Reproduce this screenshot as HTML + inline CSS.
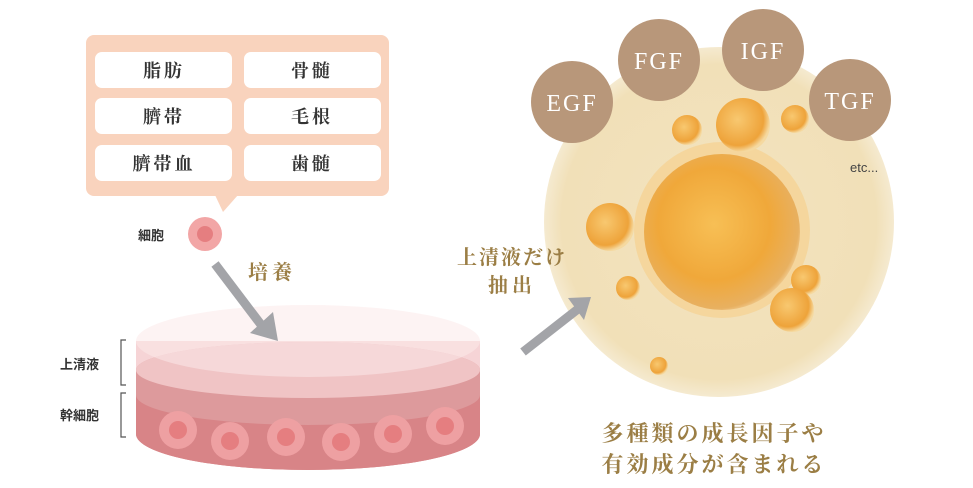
<!DOCTYPE html>
<html><head><meta charset="utf-8"><style>
html,body{margin:0;padding:0;background:#fff}
svg{display:block}
.s{font-family:"Liberation Serif","Noto Serif CJK SC",serif}
.j{font-family:"Liberation Sans","Noto Sans CJK JP",sans-serif}
</style></head><body>
<svg width="973" height="488" viewBox="0 0 973 488" xmlns="http://www.w3.org/2000/svg">
<defs>
<radialGradient id="bg" cx="0.5" cy="0.5" r="0.5"><stop offset="0" stop-color="#f3e3bf"/><stop offset="0.9" stop-color="#f1e0b8"/><stop offset="1" stop-color="#f5ead0"/></radialGradient>
<radialGradient id="bb" cx="0.45" cy="0.45" r="0.6"><stop offset="0" stop-color="#f7bf55"/><stop offset="0.6" stop-color="#f0a83a"/><stop offset="0.9" stop-color="#e8b060"/><stop offset="1" stop-color="#f6dcae"/></radialGradient>
<radialGradient id="sb" cx="0.4" cy="0.4" r="0.6"><stop offset="0" stop-color="#f8c870"/><stop offset="0.8" stop-color="#eea33a"/><stop offset="1" stop-color="#f5d9a0"/></radialGradient>
</defs>
<rect x="86" y="35" width="303" height="161" rx="8" fill="#f9d3bd"/>
<polygon points="215,195 238,195 223,212" fill="#f9d3bd"/>
<g fill="#fff">
<rect x="95" y="52" width="137" height="36" rx="7"/><rect x="244" y="52" width="137" height="36" rx="7"/>
<rect x="95" y="98" width="137" height="36" rx="7"/><rect x="244" y="98" width="137" height="36" rx="7"/>
<rect x="95" y="145" width="137" height="36" rx="7"/><rect x="244" y="145" width="137" height="36" rx="7"/>
</g>
<g class="s" font-size="18" font-weight="bold" fill="#333" text-anchor="middle" letter-spacing="3">
<text x="164" y="77">脂肪</text><text x="312" y="77">骨髄</text>
<text x="164" y="123">臍帯</text><text x="312" y="123">毛根</text>
<text x="164" y="170">臍帯血</text><text x="312" y="170">歯髄</text>
</g>
<circle cx="205" cy="234" r="17" fill="#f2a6a6"/><circle cx="205" cy="234" r="8" fill="#e57e80"/>
<text x="138" y="240" class="j" font-size="13" font-weight="bold" fill="#333">細胞</text>
<text x="248" y="279" class="s" font-size="20" font-weight="bold" fill="#9b7e45" letter-spacing="4">培養</text>
<!-- dish -->
<path d="M136,341 L136,434 A172,36 0 0 0 480,434 L480,341 Z" fill="#f6d4d6"/>
<path d="M136,370 L136,434 A172,36 0 0 0 480,434 L480,370 A172,28 0 0 0 136,370 Z" fill="#dd9a9c"/>
<path d="M136,395 L136,434 A172,36 0 0 0 480,434 L480,395 A172,30 0 0 1 136,395 Z" fill="#d88487"/>
<ellipse cx="308" cy="370" rx="172" ry="28" fill="#f0c4c5"/>
<ellipse cx="308" cy="341" rx="172" ry="36" fill="#fbe9ea" opacity="0.55"/>
<g>
<circle cx="178" cy="430" r="19" fill="#eea0a2"/><circle cx="178" cy="430" r="9" fill="#e57e80"/>
<circle cx="230" cy="441" r="19" fill="#eea0a2"/><circle cx="230" cy="441" r="9" fill="#e57e80"/>
<circle cx="286" cy="437" r="19" fill="#eea0a2"/><circle cx="286" cy="437" r="9" fill="#e57e80"/>
<circle cx="341" cy="442" r="19" fill="#eea0a2"/><circle cx="341" cy="442" r="9" fill="#e57e80"/>
<circle cx="393" cy="434" r="19" fill="#eea0a2"/><circle cx="393" cy="434" r="9" fill="#e57e80"/>
<circle cx="445" cy="426" r="19" fill="#eea0a2"/><circle cx="445" cy="426" r="9" fill="#e57e80"/>
</g>
<!-- arrow 1 on top -->
<line x1="215" y1="264" x2="262" y2="326" stroke="#a3a4a8" stroke-width="9"/>
<polygon points="250,333 278,341 273,312" fill="#a3a4a8"/>
<path d="M126,340 H121 V385 H126 M126,393 H121 V437 H126" fill="none" stroke="#555" stroke-width="1.2"/>
<text x="60" y="369" class="j" font-size="13" font-weight="bold" fill="#333">上清液</text>
<text x="60" y="420" class="j" font-size="13" font-weight="bold" fill="#333">幹細胞</text>
<circle cx="719" cy="222" r="175" fill="url(#bg)"/>
<line x1="523" y1="352" x2="578" y2="309" stroke="#a3a4a8" stroke-width="9"/>
<polygon points="568,298 591,297 584,320" fill="#a3a4a8"/>
<text x="512" y="264" class="s" font-size="20" font-weight="bold" fill="#9b7e45" text-anchor="middle" letter-spacing="2">上清液だけ</text>
<text x="512" y="292" class="s" font-size="20" font-weight="bold" fill="#9b7e45" text-anchor="middle" letter-spacing="4">抽出</text>
<circle cx="722" cy="230" r="88" fill="#f6cf88" opacity="0.6"/>
<circle cx="722" cy="232" r="78" fill="url(#bb)"/>
<circle cx="610" cy="227" r="24" fill="url(#sb)"/>
<circle cx="687" cy="130" r="15" fill="url(#sb)"/>
<circle cx="743" cy="125" r="27" fill="url(#sb)"/>
<circle cx="795" cy="119" r="14" fill="url(#sb)"/>
<circle cx="628" cy="288" r="12" fill="url(#sb)"/>
<circle cx="806" cy="280" r="15" fill="url(#sb)"/>
<circle cx="792" cy="310" r="22" fill="url(#sb)"/>
<circle cx="659" cy="366" r="9" fill="url(#sb)"/>
<g fill="#b8977a">
<circle cx="572" cy="102" r="41"/><circle cx="659" cy="60" r="41"/><circle cx="763" cy="50" r="41"/><circle cx="850" cy="100" r="41"/>
</g>
<g class="s" font-size="24" fill="#fff" text-anchor="middle" letter-spacing="2">
<text x="572" y="111">EGF</text><text x="659" y="69">FGF</text><text x="763" y="59">IGF</text><text x="850" y="109">TGF</text>
</g>
<text x="850" y="172" class="j" font-size="13" fill="#444">etc...</text>
<text x="714" y="441" class="s" font-size="22" font-weight="bold" fill="#9b7e45" text-anchor="middle" letter-spacing="3">多種類の成長因子や</text>
<text x="714" y="472" class="s" font-size="22" font-weight="bold" fill="#9b7e45" text-anchor="middle" letter-spacing="3">有効成分が含まれる</text>
</svg>
</body></html>
